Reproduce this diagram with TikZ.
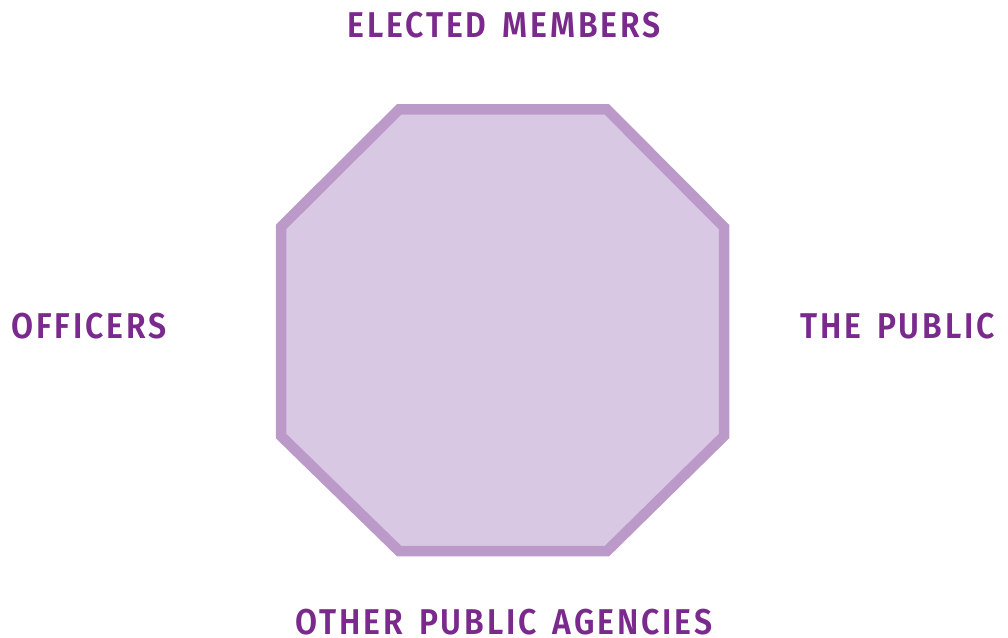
\documentclass[tikz,border=0pt]{standalone}
\usepackage{fontspec}
\setmainfont{Fira Sans SemiBold}[LetterSpace=8,FakeStretch=0.89,WordSpace=1.5]
\definecolor{octfill}{HTML}{D9C8E3}
\definecolor{octline}{HTML}{BB9ACA}
\definecolor{labelpurple}{HTML}{7A2A8C}
\begin{document}
\begin{tikzpicture}[x=1bp,y=-1bp,
  label/.style={text=labelpurple,font=\fontsize{36}{36}\selectfont,inner sep=0pt,anchor=base,text depth=0pt}]
\useasboundingbox (0,0) rectangle (1008,638);
% central octagon
\draw[octline,line width=10.5bp,fill=octfill,line join=miter]
  (399,109.5) -- (607,109.5) -- (724,227) -- (724,436) -- (607,551)
  -- (399,551) -- (281,436) -- (281,227) -- cycle;
% stakeholder labels
\node[label] (elected) at (504,38) {ELECTED MEMBERS};
\node[label] (officers) at (89,338) {OFFICERS};
\node[label] (public) at (897.5,338) {THE PUBLIC};
\node[label] (agencies) at (504,634) {OTHER PUBLIC AGENCIES};
\end{tikzpicture}
\end{document}
